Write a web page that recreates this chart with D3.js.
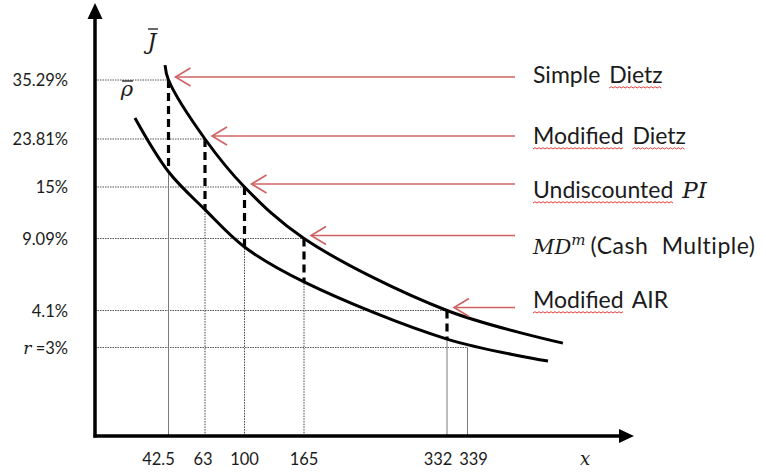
<!DOCTYPE html>
<html>
<head>
<meta charset="utf-8">
<script src="https://cdn.jsdelivr.net/npm/d3@7"></script>
<style>
  html, body { margin: 0; padding: 0; background: #fff; }
  svg { display: block; }
</style>
</head>
<body>
<svg id="chart" width="766" height="473"></svg>
<script>
// ---------------- data ----------------
const xTickValues = [42.5, 63, 100, 165, 332, 339];
const xTickLabels = ["42.5", "63", "100", "165", "332", "339"];
const yTickValues = [35.29, 23.81, 15, 9.09, 4.1, 3];
const yTickLabels = ["35.29%", "23.81%", "15%", "9.09%", "4.1%", "=3%"];

// upper curve (J-bar)
const jBarX = [40.5, 42.5, 63, 100, 165, 332, 385.7];
const jBarY = [38.15, 35.29, 23.81, 15, 9.09, 4.1, 3.13];
// lower curve (rho-bar)
const rhoBarX = [23.1, 42.5, 63, 100, 165, 332, 378.4];
const rhoBarY = [27.9, 17.8, 12.4, 8.5, 6.08, 3.25, 2.54];

// measures pointing at the upper curve
const methodNames = ["Simple Dietz", "Modified Dietz", "Undiscounted PI", "MD^m (Cash Multiple)", "Modified AIR"];
const methodX = [42.5, 63, 100, 165, 332];
const methodY = [35.29, 23.81, 15, 9.09, 4.1];

// ---------------- layout ----------------
const svg = d3.select("#chart");
const W = 766, H = 473;
svg.append("rect").attr("width", W).attr("height", H).attr("fill", "#fff");

// schematic (non-uniform) axes
const x = d3.scaleLinear()
  .domain([0, 42.5, 63, 100, 165, 332, 339, 420])
  .range([95, 168.5, 205, 244.5, 304, 447, 467.5, 633]);
const y = d3.scaleLinear()
  .domain([0, 3, 4.1, 9.09, 15, 23.81, 35.29, 50])
  .range([436, 347.5, 310.5, 238.5, 187, 139, 80, 3]);

const lab = "Lato, 'Open Sans', sans-serif";
const mathFont = "'DejaVu Serif', serif";
const textCol = "#1b1b1b";

const rhoAt = v => rhoBarY[rhoBarX.indexOf(v)];
const jAt = v => jBarY[jBarX.indexOf(v)];

// ---------------- grid lines ----------------
const grid = svg.append("g");
grid.selectAll("line.h").data(yTickValues).join("line")
  .attr("class", "h")
  .attr("x1", x(0)).attr("x2", (d, i) => x(xTickValues[i]))
  .attr("y1", d => y(d)).attr("y2", d => y(d))
  .attr("stroke", "#555").attr("stroke-width", 1)
  .attr("stroke-dasharray", "1.5,1");

const vStyle = ["solid", "dotted", "dotted", "dotted", "solid", "solid"];
grid.selectAll("line.v").data(xTickValues).join("line")
  .attr("class", "v")
  .attr("x1", d => x(d)).attr("x2", d => x(d))
  .attr("y1", y(0))
  .attr("y2", d => rhoBarX.includes(d) ? y(rhoAt(d)) : y(3))
  .attr("stroke", (d, i) => vStyle[i] === "solid" ? "#7a7a7a" : "#444")
  .attr("stroke-width", 1)
  .attr("stroke-dasharray", (d, i) => vStyle[i] === "solid" ? null : "1.5,1.2");

// ---------------- curves ----------------
const line = d3.line().x(d => x(d[0])).y(d => y(d[1])).curve(d3.curveCatmullRom.alpha(0.5));
svg.append("path").datum(d3.zip(jBarX, jBarY))
  .attr("d", line).attr("fill", "none").attr("stroke", "#000").attr("stroke-width", 3);
svg.append("path").datum(d3.zip(rhoBarX, rhoBarY))
  .attr("d", line).attr("fill", "none").attr("stroke", "#000").attr("stroke-width", 3);

// dashed verticals between the curves
svg.selectAll("line.gap").data(methodX).join("line")
  .attr("class", "gap")
  .attr("x1", d => x(d)).attr("x2", d => x(d))
  .attr("y1", d => y(jAt(d))).attr("y2", d => y(rhoAt(d)))
  .attr("stroke", "#000").attr("stroke-width", 3.2)
  .attr("stroke-dasharray", "8,5");

// ---------------- axes ----------------
const ax = svg.append("g");
ax.append("line").attr("x1", x(0)).attr("x2", x(0)).attr("y1", y(0) + 1.5).attr("y2", 16)
  .attr("stroke", "#000").attr("stroke-width", 3.5);
ax.append("path").attr("d", `M${x(0)},3 L${x(0) - 7.5},19 L${x(0) + 7.5},19 Z`).attr("fill", "#000");
ax.append("line").attr("x1", x(0) - 1.5).attr("x2", 622).attr("y1", y(0)).attr("y2", y(0))
  .attr("stroke", "#000").attr("stroke-width", 3.5);
ax.append("path").attr("d", `M634,${y(0)} L619,${y(0) - 7} L619,${y(0) + 7} Z`).attr("fill", "#000");

// y tick labels
const yl = svg.append("g").attr("font-family", lab).attr("font-size", 16.5).attr("fill", textCol)
  .attr("text-anchor", "end");
yTickValues.forEach((v, i) => {
  const t = yl.append("text").attr("x", 68).attr("y", y(v) + 6);
  if (i === yTickValues.length - 1) {
    t.append("tspan").attr("font-family", mathFont).attr("font-style", "italic").attr("font-size", 17).text("r");
    t.append("tspan").text(" " + yTickLabels[i]);
  } else {
    t.text(yTickLabels[i]);
  }
});

// x tick labels
const xNudge = [-10, -2, 0, 0, -9, 6];
svg.append("g").attr("font-family", lab).attr("font-size", 16.5).attr("fill", textCol)
  .attr("text-anchor", "middle")
  .selectAll("text").data(xTickValues).join("text")
  .attr("x", (d, i) => x(d) + xNudge[i]).attr("y", 465)
  .text((d, i) => xTickLabels[i]);

// axis variable label
svg.append("text").attr("x", 585).attr("y", 465).attr("text-anchor", "middle")
  .attr("font-family", mathFont).attr("font-style", "italic").attr("font-size", 18)
  .attr("fill", textCol).text("x");

// curve names
svg.append("text").attr("x", 152).attr("y", 49).attr("text-anchor", "middle")
  .attr("font-family", mathFont).attr("font-style", "italic").attr("font-size", 22)
  .attr("fill", textCol).text("J");
svg.append("line").attr("x1", 148).attr("x2", 158).attr("y1", 29).attr("y2", 29)
  .attr("stroke", textCol).attr("stroke-width", 1.3);
svg.append("text").attr("x", 127).attr("y", 96).attr("text-anchor", "middle")
  .attr("font-family", mathFont).attr("font-style", "italic").attr("font-size", 21)
  .attr("fill", textCol).text("ρ");
svg.append("line").attr("x1", 122).attr("x2", 133).attr("y1", 81).attr("y2", 81)
  .attr("stroke", textCol).attr("stroke-width", 1.3);

// ---------------- arrows ----------------
const red = "#cf6262";
const arrows = svg.append("g").attr("stroke", red).attr("stroke-width", 1.6).attr("fill", "none");
methodX.forEach((v, i) => {
  const tx = x(v) + 7, ty = y(methodY[i]) - 3;
  arrows.append("line").attr("x1", tx).attr("x2", 515).attr("y1", ty).attr("y2", ty);
  arrows.append("path").attr("d", `M${tx + 15},${ty - 9} L${tx},${ty} L${tx + 15},${ty + 9}`);
});

// ---------------- method labels ----------------
const labelBase = [83, 144, 198, 254, 308];
const squiggleWords = [["Dietz"], ["Modified", "Dietz"], ["Undiscounted"], [], ["Modified"]];
const lg = svg.append("g").attr("font-family", lab).attr("font-size", 23).attr("fill", textCol);

function squiggle(x0, x1, yy) {
  let d = `M${x0},${yy}`;
  let up = true;
  for (let xx = x0 + 2; xx <= x1; xx += 2) {
    d += ` L${xx},${yy + (up ? -1.3 : 0)}`;
    up = !up;
  }
  return d;
}

methodNames.forEach((name, i) => {
  const t = lg.append("text").attr("x", 533).attr("y", labelBase[i]).attr("word-spacing", 3);
  if (i === 2) {
    t.append("tspan").text("Undiscounted ");
    t.append("tspan").attr("font-family", mathFont).attr("font-style", "italic").attr("font-size", 23).text("PI");
  } else if (i === 3) {
    t.append("tspan").attr("font-family", mathFont).attr("font-style", "italic").attr("font-size", 21).text("MD");
    t.append("tspan").attr("font-family", mathFont).attr("font-style", "italic").attr("font-size", 15)
      .attr("dy", -9).text("m");
    t.append("tspan").attr("dy", 9).attr("dx", 5).attr("word-spacing", 7).attr("letter-spacing", 0.5)
      .text("(Cash Multiple)");
  } else {
    t.text(name);
  }
  const node = t.node();
  const full = node.textContent;
  squiggleWords[i].forEach(w => {
    const idx = full.indexOf(w);
    if (idx < 0) return;
    const s = node.getStartPositionOfChar(idx).x;
    const e = node.getEndPositionOfChar(idx + w.length - 1).x;
    svg.append("path").attr("d", squiggle(s, e, labelBase[i] + 5))
      .attr("fill", "none").attr("stroke", "#e23b3b").attr("stroke-width", 1);
  });
});
</script>
</body>
</html>
